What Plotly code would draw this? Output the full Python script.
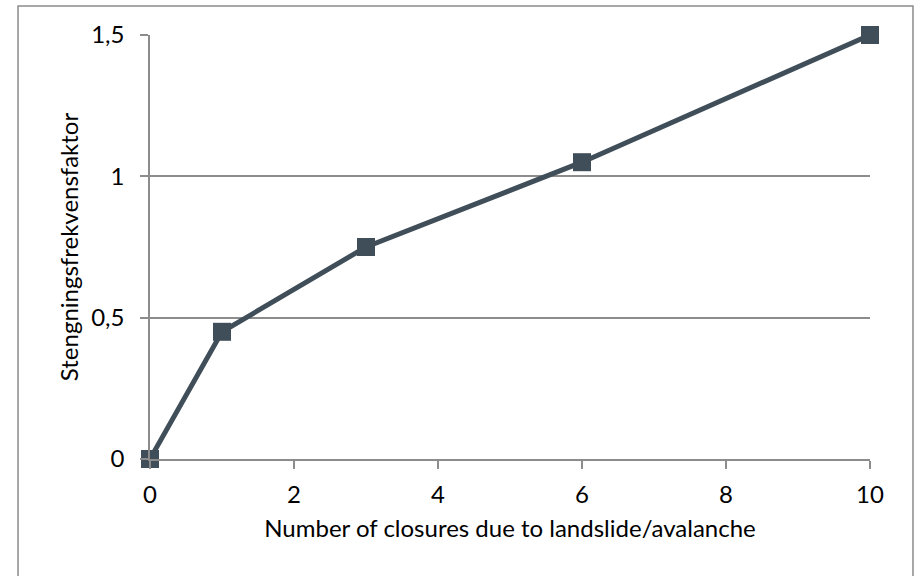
import plotly.graph_objects as go

# Closure-frequency factor as a function of the number of closures
closures = [0, 1, 3, 6, 10]
factor = [0, 0.45, 0.75, 1.05, 1.5]
x_ticks = [0, 2, 4, 6, 8, 10]
y_ticks = [0, 0.5, 1, 1.5]
y_tick_labels = ["0", "0,5", "1", "1,5"]

line_color = "#404E59"
axis_color = "#8C8C8C"
font_family = "Lato, Open Sans, sans-serif"

fig = go.Figure()
fig.add_trace(go.Scatter(
    x=closures, y=factor,
    mode="lines+markers",
    line=dict(color=line_color, width=5),
    marker=dict(symbol="square", size=18, color=line_color),
    cliponaxis=False,
    showlegend=False,
))

# Chart frame around the whole figure
fig.add_shape(type="rect", xref="paper", yref="paper",
              x0=-0.1833, x1=1.0597, y0=-0.30, y1=1.0684,
              line=dict(color="#8C8C8C", width=1.5), layer="below")

fig.update_layout(
    width=922, height=576,
    margin=dict(l=150, r=52, t=35, b=117),
    paper_bgcolor="white", plot_bgcolor="white",
    font=dict(family=font_family, size=24, color="black"),
    xaxis=dict(
        range=[0, 10], tickvals=x_ticks,
        showgrid=False, zeroline=False,
        showline=True, linecolor=axis_color, linewidth=1.5,
        ticks="outside", ticklen=8, tickcolor=axis_color, tickwidth=1.5,
        ticklabelstandoff=5,
        title=dict(text="Number of closures due to landslide/avalanche",
                   font=dict(size=24), standoff=14),
    ),
    yaxis=dict(
        range=[0, 1.5], tickvals=y_ticks, ticktext=y_tick_labels,
        showgrid=True, gridcolor=axis_color, gridwidth=1.5,
        zeroline=False,
        showline=True, linecolor=axis_color, linewidth=1.5,
        ticks="outside", ticklen=8, tickcolor=axis_color, tickwidth=1.5,
        ticklabelstandoff=11,
        title=dict(text="Stengningsfrekvensfaktor", font=dict(size=24),
                   standoff=6),
    ),
)

fig.write_html("out.html")
